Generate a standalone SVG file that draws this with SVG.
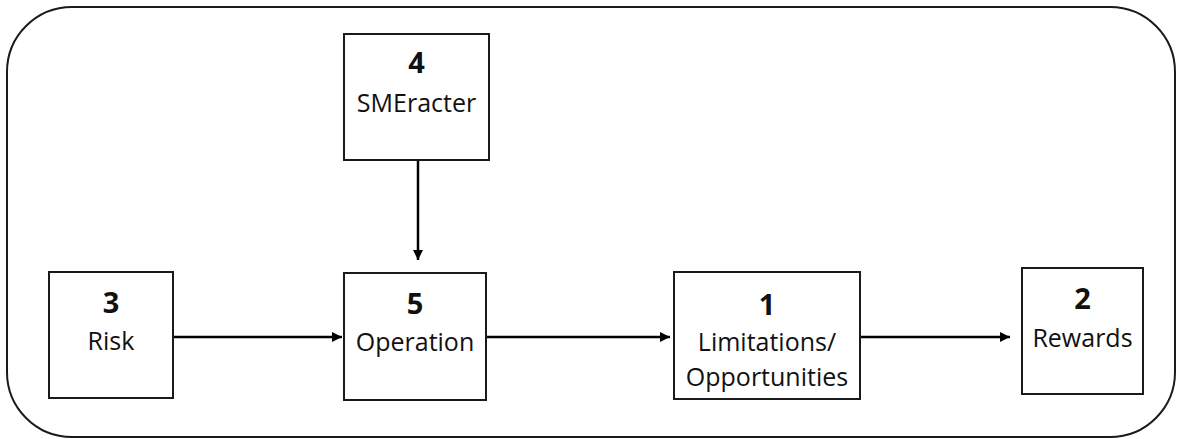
<svg xmlns="http://www.w3.org/2000/svg" width="1177" height="439" viewBox="0 0 1177 439">
  <style>
    .frame { fill: #ffffff; stroke: #1a1a1a; stroke-width: 2; }
    .box { fill: #ffffff; stroke: #1a1a1a; stroke-width: 2; }
    .num { font-family: "Open Sans", "Liberation Sans", sans-serif; font-weight: bold; font-size: 29px; fill: #111111; text-anchor: middle; }
    .lbl { font-family: "Open Sans", "Liberation Sans", sans-serif; font-size: 25px; fill: #111111; text-anchor: middle; }
    .edge { stroke: #000000; stroke-width: 2.5; fill: none; marker-end: url(#head); }
  </style>
  <defs>
    <marker id="head" viewBox="0 0 10 10" refX="10" refY="5" markerWidth="4" markerHeight="4" orient="auto" markerUnits="strokeWidth">
      <path d="M0,0 L10,5 L0,10 Z" fill="#000000"/>
    </marker>
  </defs>

  <!-- outer frame -->
  <rect class="frame" x="7" y="7" width="1168" height="430" rx="65" ry="65"/>

  <!-- connectors -->
  <g id="connectors">
    <line class="edge" x1="418" y1="160" x2="418" y2="260"/>
    <line class="edge" x1="173" y1="337" x2="342" y2="337"/>
    <line class="edge" x1="487" y1="337" x2="670" y2="337"/>
    <line class="edge" x1="860" y1="337" x2="1010" y2="337"/>
  </g>

  <g id="node-4">
    <rect class="box" x="344" y="34" width="145" height="126"/>
    <text class="num" x="416.5" y="73">4</text>
    <text class="lbl" x="416.5" y="112">SMEracter</text>
  </g>

  <g id="node-3">
    <rect class="box" x="49" y="272" width="124" height="126"/>
    <text class="num" x="111" y="313">3</text>
    <text class="lbl" x="111" y="350">Risk</text>
  </g>

  <g id="node-5">
    <rect class="box" x="344" y="273" width="142" height="127"/>
    <text class="num" x="415" y="314">5</text>
    <text class="lbl" x="415" y="351">Operation</text>
  </g>

  <g id="node-1">
    <rect class="box" x="674" y="272" width="186" height="127"/>
    <text class="num" x="767" y="315">1</text>
    <text class="lbl" x="767" y="351">Limitations/</text>
    <text class="lbl" x="767" y="386">Opportunities</text>
  </g>

  <g id="node-2">
    <rect class="box" x="1022" y="268" width="121" height="126"/>
    <text class="num" x="1082.5" y="309">2</text>
    <text class="lbl" x="1082.5" y="347">Rewards</text>
  </g>
</svg>
